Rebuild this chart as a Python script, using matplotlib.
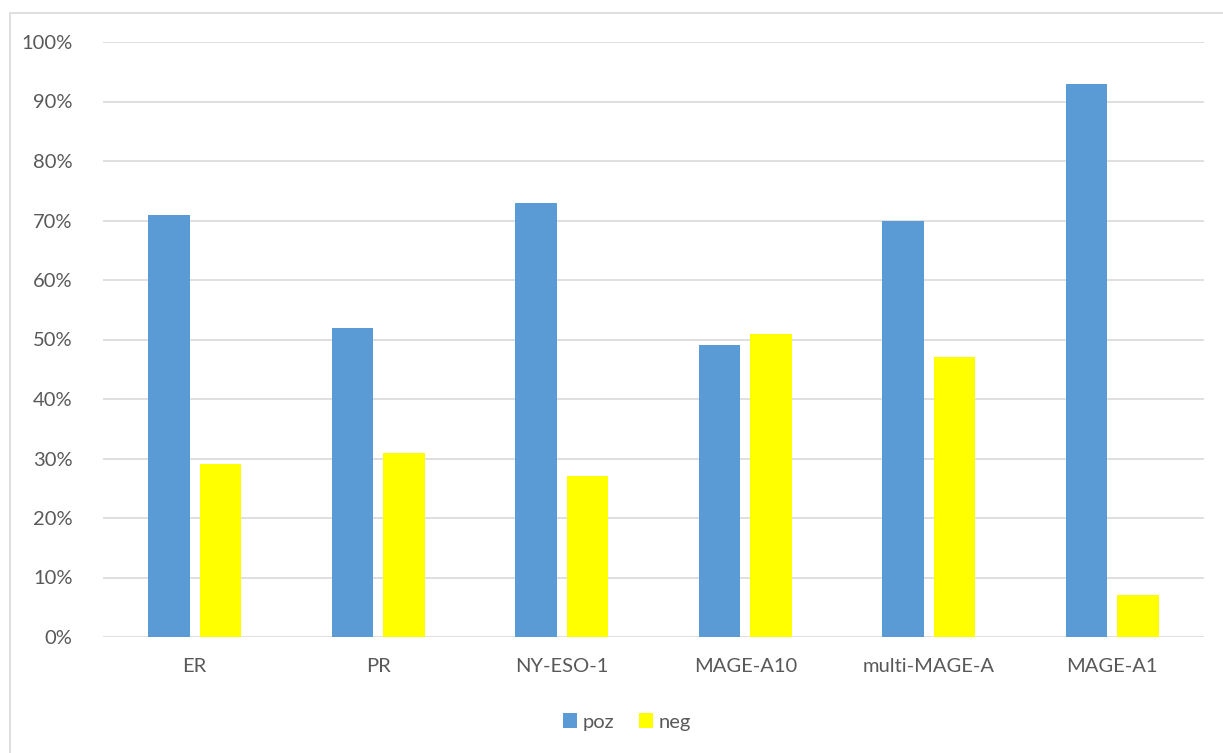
import matplotlib.pyplot as plt
from matplotlib.patches import Rectangle
import numpy as np

categorie = ['ER', 'PR', 'NY-ESO-1', 'MAGE-A10', 'multi-MAGE-A', 'MAGE-A1']
poz = [71, 52, 73, 49, 70, 93]
neg = [29, 31, 27, 51, 47, 7]
tick_y = [0, 10, 20, 30, 40, 50, 60, 70, 80, 90, 100]

plt.rcParams['font.family'] = ['Lato', 'DejaVu Sans']

fig = plt.figure(figsize=(12.23, 7.53), dpi=100)
W, H = 1223, 753
ax = fig.add_axes([103 / W, 1 - 637 / H, (1204 - 103) / W, (637 - 42) / H])

# bordo del grafico
fig.patches.append(Rectangle((10 / W, -0.05), 1.1, 1 - 13 / H + 0.05,
                             transform=fig.transFigure, fill=False,
                             edgecolor='#d9d9d9', linewidth=1.2))

x = np.arange(len(categorie))
w = 0.226
gap = 0.054
ax.bar(x - (w + gap) / 2, poz, w, color='#5b9bd5', label='poz', zorder=3)
ax.bar(x + (w + gap) / 2, neg, w, color='#ffff00', label='neg', zorder=3)

ax.set_xlim(-0.5, len(categorie) - 0.5)
ax.set_ylim(0, 100)
ax.set_yticks(tick_y)
ax.set_yticklabels([f'{v}%' for v in tick_y])
ax.set_xticks(x)
ax.set_xticklabels(categorie)
ax.tick_params(length=0, labelsize=14.5, labelcolor='#595959')
ax.tick_params(axis='y', pad=22)
ax.tick_params(axis='x', pad=15)
ax.grid(axis='y', color='#d9d9d9', linewidth=1.2, zorder=0)
for s in ax.spines.values():
    s.set_visible(False)

fig.legend(loc='center', bbox_to_anchor=(627 / W, 1 - 722 / H), ncol=2,
           frameon=False, fontsize=14.5, labelcolor='#595959',
           handlelength=0.7, handleheight=0.7, handletextpad=0.3,
           columnspacing=1.2)

fig.savefig('out.png', dpi=100)
